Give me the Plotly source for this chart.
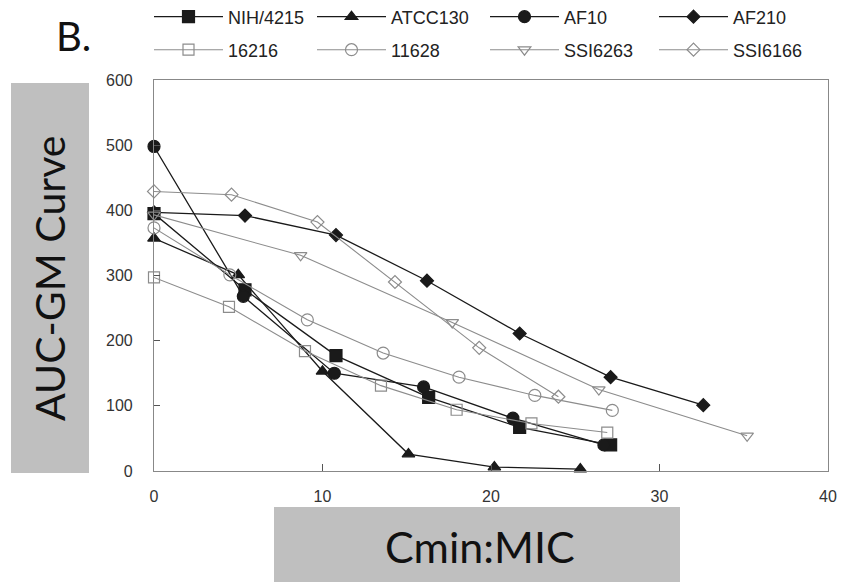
import plotly.graph_objects as go

# ---- data ----
names = ["NIH/4215", "ATCC130", "AF10", "AF210", "16216", "11628", "SSI6263", "SSI6166"]

nih_x = [0, 5.4, 10.8, 16.3, 21.7, 27.1]
nih_y = [395, 278, 177, 113, 67, 40]

atcc_x = [0, 5.0, 10.0, 15.1, 20.2, 25.3]
atcc_y = [357, 301, 153, 26, 6, 3]

af10_x = [0, 5.3, 10.7, 16.0, 21.3, 26.7]
af10_y = [498, 268, 150, 129, 81, 40]

af210_x = [0, 5.4, 10.8, 16.2, 21.7, 27.1, 32.6]
af210_y = [397, 392, 362, 292, 211, 144, 101]

s16216_x = [0, 4.45, 8.96, 13.47, 17.96, 22.4, 26.9]
s16216_y = [297, 252, 184, 131, 94, 73, 59]

s11628_x = [0, 4.5, 9.1, 13.6, 18.1, 22.6, 27.2]
s11628_y = [373, 301, 232, 181, 144, 116, 93]

ssi6263_x = [0, 8.7, 17.7, 26.4, 35.2]
ssi6263_y = [393, 331, 228, 125, 54]

ssi6166_x = [0, 4.6, 9.7, 14.3, 19.3, 24.0]
ssi6166_y = [429, 424, 382, 290, 189, 114]

x_ticks = [0, 10, 20, 30, 40]
y_ticks = [0, 100, 200, 300, 400, 500, 600]

series_x = [nih_x, atcc_x, af10_x, af210_x, s16216_x, s11628_x, ssi6263_x, ssi6166_x]
series_y = [nih_y, atcc_y, af10_y, af210_y, s16216_y, s11628_y, ssi6263_y, ssi6166_y]

# ---- styles ----
symbols = ["square", "triangle-up", "circle", "diamond",
           "square-open", "circle-open", "triangle-down-open", "diamond-open"]
sizes = [12, 11, 12, 10, 11, 12, 11, 10]
DARK = "#1a1a1a"
GRAY = "#8c8c8c"
line_colors = [DARK, DARK, DARK, DARK, GRAY, GRAY, GRAY, GRAY]
line_widths = [1.3, 1.3, 1.3, 1.3, 1.1, 1.1, 1.1, 1.1]

W, H = 841, 582
L, R, T, B = 154, 13, 80, 111

# legend column line-start pixels and row pixels
col_px = [153, 316, 489, 658]
row_py = [17, 50]

fig = go.Figure()
for i, nm in enumerate(names):
    lg = "legend" if i == 0 else f"legend{i+1}"
    fig.add_trace(go.Scatter(
        x=series_x[i], y=series_y[i], name=nm, mode="lines+markers",
        line=dict(color=line_colors[i], width=line_widths[i]),
        marker=dict(symbol=symbols[i], size=sizes[i], color=line_colors[i],
                    line=dict(color=line_colors[i], width=1.2)),
        legend=lg, cliponaxis=False,
    ))

layout_legends = {}
for i in range(8):
    col = i % 4
    row = i // 4
    lg = "legend" if i == 0 else f"legend{i+1}"
    layout_legends[lg] = dict(
        xref="container", yref="container",
        x=(col_px[col] - 4) / W, y=1 - row_py[row] / H,
        xanchor="left", yanchor="middle",
        bgcolor="rgba(0,0,0,0)", borderwidth=0,
        font=dict(family="Liberation Sans", size=18, color="#222"),
        itemwidth=69,
    )

def px_x(p):
    return (p - L) / (W - L - R)

def px_y(p):
    return (H - B - p) / (H - T - B)

fig.update_layout(
    width=W, height=H,
    margin=dict(l=L, r=R, t=T, b=B, autoexpand=False),
    paper_bgcolor="white", plot_bgcolor="white",
    showlegend=True,
    **layout_legends,
    xaxis=dict(range=[0, 40], tickvals=x_ticks, ticks="inside", ticklen=7,
               tickcolor="#555", showline=True, linecolor="#888", linewidth=1.2,
               mirror=True, showgrid=False, zeroline=False, automargin=False,
               tickfont=dict(family="Liberation Sans", size=16, color="#333"),
               ticklabelstandoff=11),
    yaxis=dict(range=[0, 600], tickvals=y_ticks, ticks="inside", ticklen=6,
               tickcolor="#555", showline=True, linecolor="#888", linewidth=1.2,
               mirror=True, showgrid=False, zeroline=False, automargin=False,
               tickfont=dict(family="Liberation Sans", size=16, color="#333"),
               ticklabelstandoff=17),
    shapes=[
        dict(type="rect", xref="paper", yref="paper", layer="below",
             x0=px_x(11), x1=px_x(89), y0=px_y(83), y1=px_y(473),
             fillcolor="#bfbfbf", line=dict(width=0)),
        dict(type="rect", xref="paper", yref="paper", layer="below",
             x0=px_x(274), x1=px_x(680), y0=px_y(507), y1=px_y(590),
             fillcolor="#bfbfbf", line=dict(width=0)),
    ],
    annotations=[
        dict(text="B.", xref="paper", yref="paper", x=px_x(73), y=px_y(36),
             showarrow=False, xanchor="center", yanchor="middle",
             font=dict(family="Lato", size=40, color="#111")),
        dict(text="AUC-GM Curve", xref="paper", yref="paper", x=px_x(49), y=px_y(279),
             showarrow=False, xanchor="center", yanchor="middle", textangle=-90,
             font=dict(family="Lato", size=41, color="#111")),
        dict(text="Cmin:MIC", xref="paper", yref="paper", x=px_x(480), y=px_y(546),
             showarrow=False, xanchor="center", yanchor="middle",
             font=dict(family="Lato", size=43, color="#111")),
    ],
)

fig.write_html("out.html", config={"displayModeBar": False},
               post_script="document.body.style.margin='0';")
